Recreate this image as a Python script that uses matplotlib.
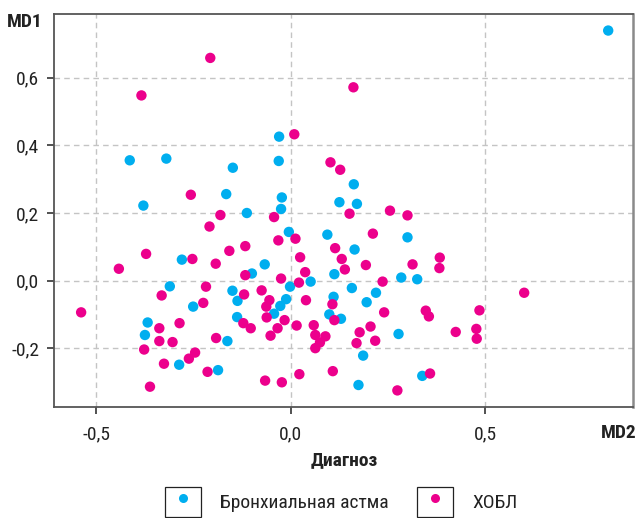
import matplotlib
matplotlib.use("Agg")
import matplotlib.pyplot as plt
from matplotlib.lines import Line2D
from matplotlib.patches import Patch
from matplotlib.ticker import FuncFormatter
from matplotlib import font_manager

# ── Data ──────────────────────────────────────────────────────────────────────

asthma_md2 = [-0.030, -0.414, -0.320, -0.149, -0.031, -0.166, -0.023, -0.379,
              -0.025, -0.113, 0.816, 0.162, 0.125, 0.170, -0.005, -0.280,
              -0.067, -0.100, 0.051, -0.311, -0.002, -0.150, -0.012, -0.137,
              -0.027, -0.251, -0.043, -0.138, -0.368, -0.375, -0.163, -0.287,
              -0.187, 0.094, 0.300, 0.164, 0.112, 0.284, 0.325, 0.157,
              0.219, 0.110, 0.195, 0.099, 0.129, 0.277, 0.186, 0.338, 0.174]
asthma_md1 = [0.426, 0.356, 0.361, 0.334, 0.354, 0.256, 0.246, 0.222,
              0.212, 0.200, 0.740, 0.285, 0.232, 0.227, 0.144, 0.062,
              0.048, 0.021, -0.003, -0.017, -0.018, -0.030, -0.055, -0.060,
              -0.075, -0.077, -0.098, -0.108, -0.124, -0.161, -0.179, -0.249,
              -0.265, 0.136, 0.128, 0.092, 0.019, 0.009, 0.004, -0.022,
              -0.036, -0.048, -0.064, -0.100, -0.113, -0.158, -0.222, -0.282, -0.309]

copd_md2 = [-0.207, -0.384, 0.009, -0.257, -0.181, -0.043, 0.161, 0.102,
            0.127, 0.151, 0.255, 0.300, -0.209, 0.012, -0.032, -0.372,
            -0.117, -0.158, 0.024, -0.253, -0.193, -0.442, 0.037, -0.117,
            -0.025, 0.021, -0.218, -0.075, -0.332, -0.120, -0.055, 0.039,
            -0.225, -0.063, -0.539, -0.062, -0.016, -0.286, -0.122, 0.015,
            0.059, -0.338, -0.103, -0.034, 0.063, -0.052, -0.192, -0.338,
            -0.304, -0.377, 0.063, -0.246, -0.262, -0.326, -0.214, 0.022,
            -0.066, -0.023, -0.362, 0.211, 0.114, 0.131, 0.383, 0.139,
            0.193, 0.313, 0.382, 0.236, 0.600, 0.107, 0.240, 0.347,
            0.355, 0.485, 0.112, 0.205, 0.089, 0.177, 0.424, 0.477,
            0.478, 0.075, 0.169, 0.217, 0.108, 0.358, 0.274]
copd_md1 = [0.659, 0.548, 0.433, 0.254, 0.194, 0.188, 0.572, 0.350,
            0.328, 0.198, 0.207, 0.193, 0.160, 0.124, 0.119, 0.079,
            0.102, 0.088, 0.069, 0.064, 0.050, 0.035, 0.025, 0.016,
            0.006, -0.006, -0.018, -0.029, -0.044, -0.041, -0.058, -0.058,
            -0.066, -0.077, -0.094, -0.109, -0.117, -0.126, -0.126, -0.133,
            -0.132, -0.141, -0.141, -0.141, -0.161, -0.163, -0.170, -0.179,
            -0.182, -0.204, -0.200, -0.213, -0.231, -0.246, -0.270, -0.277,
            -0.296, -0.301, -0.314, 0.139, 0.096, 0.064, 0.068, 0.033,
            0.046, 0.048, 0.037, -0.003, -0.036, -0.070, -0.094, -0.089,
            -0.106, -0.088, -0.117, -0.136, -0.165, -0.153, -0.152, -0.143,
            -0.172, -0.183, -0.185, -0.178, -0.268, -0.275, -0.325]

labels = ["Бронхиальная астма", "ХОБЛ"]
x_ticks = [-0.5, 0.0, 0.5]
y_ticks = [-0.2, 0.0, 0.2, 0.4, 0.6]

BLUE = "#00aeef"
MAGENTA = "#ec008c"
TEXT = "#222222"

# ── Fonts: a condensed grotesque if one is around ─────────────────────────────

installed = {f.name for f in font_manager.fontManager.ttflist}
for cand in ("Roboto Condensed", "IBM Plex Sans Condensed", "Liberation Sans Narrow"):
    if cand in installed:
        family = cand
        break
else:
    family = "DejaVu Sans"
plt.rcParams["font.family"] = [family, "DejaVu Sans"]

# ── Plot ──────────────────────────────────────────────────────────────────────

fig = plt.figure(figsize=(6.38, 5.18), dpi=100)
ax = fig.add_axes([0.0851, 0.2137, 0.9066, 0.7593])

ax.scatter(asthma_md2, asthma_md1, s=56, color=BLUE, edgecolors="none", zorder=3)
ax.scatter(copd_md2, copd_md1, s=56, color=MAGENTA, edgecolors="none", zorder=3)

ax.set_xlim(-0.608, 0.879)
ax.set_ylim(-0.375, 0.789)
ax.set_xticks(x_ticks)
ax.set_yticks(y_ticks)

comma = FuncFormatter(lambda v, _: f"{v:.1f}".replace(".", ",").replace("-0,0", "0,0"))
ax.xaxis.set_major_formatter(comma)
ax.yaxis.set_major_formatter(comma)

ax.grid(True, color="#c4c4c4", linestyle=(0, (4, 3)), linewidth=1.0)
ax.set_axisbelow(True)
for sp in ax.spines.values():
    sp.set_color("#555555")
    sp.set_linewidth(1.3)
ax.spines["right"].set_color("#8a8a8a")
ax.spines["right"].set_linewidth(1.8)

ax.tick_params(axis="x", length=5, width=1.2, color="#333333",
               labelsize=14, pad=8, labelcolor=TEXT)
ax.tick_params(axis="y", length=5, width=1.2, color="#333333",
               labelsize=14, pad=6, labelcolor=TEXT)

fig.text(0.0115, 0.958, "MD1", fontsize=14, fontweight="bold", va="center", ha="left",
         color=TEXT)
fig.text(0.998, 0.164, "MD2", fontsize=14, fontweight="bold", va="center", ha="right",
         color=TEXT)
fig.text(0.539, 0.112, "Диагноз", fontsize=14, fontweight="bold", va="center",
         ha="center", color=TEXT)

handles = [
    (Patch(facecolor="white", edgecolor=TEXT, linewidth=0.9),
     Line2D([], [], linestyle="none", marker="o", markersize=6.5,
            markerfacecolor=BLUE, markeredgecolor="none")),
    (Patch(facecolor="white", edgecolor=TEXT, linewidth=0.9),
     Line2D([], [], linestyle="none", marker="o", markersize=6.5,
            markerfacecolor=MAGENTA, markeredgecolor="none")),
]
fig.legend(handles, labels, loc="upper left", bbox_to_anchor=(0.2586, 0.0593),
           ncol=2, frameon=False, fontsize=14, handlelength=1.84, handleheight=2.0,
           handletextpad=0.99, columnspacing=1.46, borderpad=0, borderaxespad=0,
           labelcolor=TEXT)

fig.savefig("out.png", dpi=100)
